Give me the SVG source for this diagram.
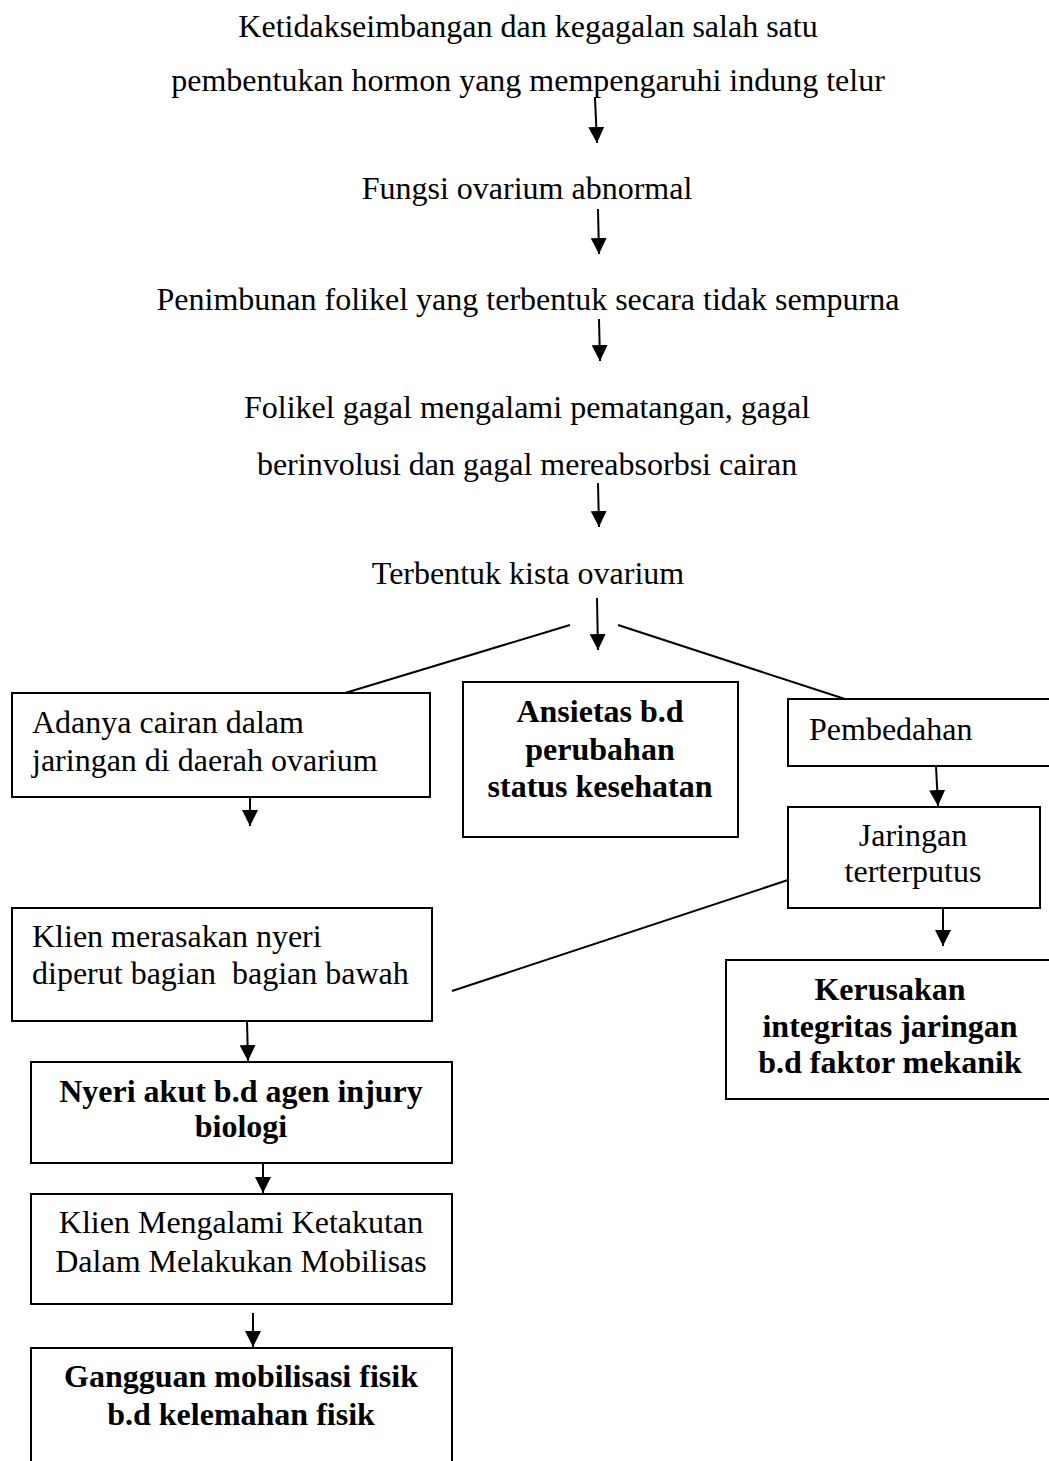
<svg xmlns="http://www.w3.org/2000/svg" width="1049" height="1461" viewBox="0 0 1049 1461">
<style>
text{font-family:"Liberation Serif","Times New Roman",serif;font-size:32px;fill:#000}
.c{text-anchor:middle}
.b{font-weight:bold}
.box{fill:#fff;stroke:#000;stroke-width:2}
.ln{stroke:#000;stroke-width:2;fill:none}
</style>
<defs>
<marker id="ah" markerUnits="userSpaceOnUse" markerWidth="16" markerHeight="16" viewBox="0 0 16 16" refX="16" refY="8" orient="auto">
<path d="M0,0 L16,8 L0,16 z" fill="#000"/>
</marker>
</defs>
<rect width="1049" height="1461" fill="#fff"/>
<g id="n1"><text class="c" x="528" y="37">Ketidakseimbangan dan kegagalan salah satu</text><text class="c" x="528" y="91">pembentukan hormon yang mempengaruhi indung telur</text></g>
<g id="n2"><text class="c" x="527" y="199">Fungsi ovarium abnormal</text></g>
<g id="n3"><text class="c" x="528" y="310">Penimbunan folikel yang terbentuk secara tidak sempurna</text></g>
<g id="n4"><text class="c" x="527" y="418">Folikel gagal mengalami pematangan, gagal</text><text class="c" x="527" y="475">berinvolusi dan gagal mereabsorbsi cairan</text></g>
<g id="n5"><text class="c" x="528" y="584">Terbentuk kista ovarium</text></g>
<g id="n6"><rect class="box" x="12" y="693" width="418" height="104"/><text x="32" y="733">Adanya cairan dalam</text><text x="32" y="771">jaringan di daerah ovarium</text></g>
<g id="n7"><rect class="box" x="463" y="682" width="275" height="155"/><text class="c b" x="600" y="722">Ansietas b.d</text><text class="c b" x="600" y="760">perubahan</text><text class="c b" x="600" y="797">status kesehatan</text></g>
<g id="n8"><rect class="box" x="788" y="699" width="280" height="67"/><text x="809" y="740">Pembedahan</text></g>
<g id="n9"><rect class="box" x="788" y="807" width="252" height="101"/><text class="c" x="913" y="846">Jaringan</text><text class="c" x="913" y="882">terterputus</text></g>
<g id="n10"><rect class="box" x="12" y="908" width="420" height="113"/><text x="32" y="947">Klien merasakan nyeri</text><text x="32" y="984" xml:space="preserve">diperut bagian  bagian bawah</text></g>
<g id="n11"><rect class="box" x="726" y="960" width="340" height="139"/><text class="c b" x="890" y="1000">Kerusakan</text><text class="c b" x="890" y="1037">integritas jaringan</text><text class="c b" x="890" y="1073">b.d faktor mekanik</text></g>
<g id="n12"><rect class="box" x="31" y="1062" width="421" height="101"/><text class="c b" x="241" y="1102">Nyeri akut b.d agen injury</text><text class="c b" x="241" y="1137">biologi</text></g>
<g id="n13"><rect class="box" x="31" y="1194" width="421" height="110"/><text class="c" x="241" y="1233">Klien Mengalami Ketakutan</text><text class="c" x="241" y="1272">Dalam Melakukan Mobilisas</text></g>
<g id="n14"><rect class="box" x="31" y="1348" width="421" height="130"/><text class="c b" x="241" y="1387">Gangguan mobilisasi fisik</text><text class="c b" x="241" y="1425">b.d kelemahan fisik</text></g>
<g id="connectors">
<line class="ln" x1="595" y1="98" x2="597" y2="143" marker-end="url(#ah)"/>
<line class="ln" x1="598" y1="209" x2="599" y2="254" marker-end="url(#ah)"/>
<line class="ln" x1="599" y1="319" x2="600" y2="361" marker-end="url(#ah)"/>
<line class="ln" x1="598" y1="483" x2="599" y2="527" marker-end="url(#ah)"/>
<line class="ln" x1="597" y1="598" x2="598" y2="650" marker-end="url(#ah)"/>
<line class="ln" x1="570" y1="625" x2="345" y2="693"/>
<line class="ln" x1="618" y1="625" x2="845" y2="699"/>
<line class="ln" x1="250" y1="797" x2="250" y2="826" marker-end="url(#ah)"/>
<line class="ln" x1="936" y1="766" x2="938" y2="806" marker-end="url(#ah)"/>
<line class="ln" x1="943" y1="908" x2="943" y2="946" marker-end="url(#ah)"/>
<line class="ln" x1="788" y1="880" x2="452" y2="991"/>
<line class="ln" x1="247" y1="1021" x2="248" y2="1061" marker-end="url(#ah)"/>
<line class="ln" x1="263" y1="1163" x2="263" y2="1193" marker-end="url(#ah)"/>
<line class="ln" x1="253" y1="1313" x2="253" y2="1347" marker-end="url(#ah)"/>
</g>
</svg>
